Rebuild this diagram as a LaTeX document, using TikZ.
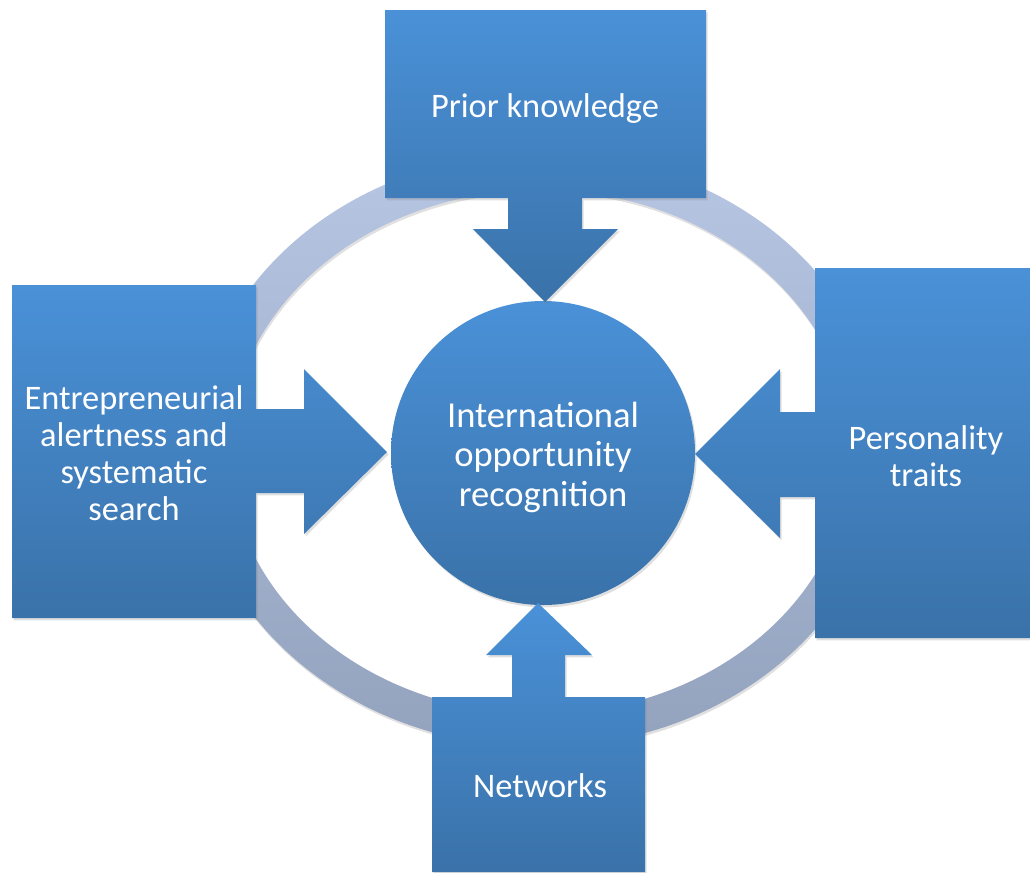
\documentclass[tikz,border=0pt]{standalone}
\usepackage{fontspec}
\setmainfont{Carlito}
\usetikzlibrary{shadows}
\definecolor{boxtop}{HTML}{4A91D8}
\definecolor{boxbot}{HTML}{3A72A9}
\definecolor{ringtop}{HTML}{B6C6E3}
\definecolor{ringbot}{HTML}{93A2BD}
\tikzset{
  callout/.style={top color=boxtop, bottom color=boxbot, draw=none,
    drop shadow={opacity=0.25, shadow xshift=1.2pt, shadow yshift=-1.8pt}},
  lbl/.style={text=white, align=center, font=\fontsize{25.8}{27.75}\selectfont},
}
\begin{document}
\begin{tikzpicture}[x=0.75pt,y=-0.75pt]
\useasboundingbox (0,0) rectangle (1030,872);
% ring shadow
\fill[black, opacity=0.12, even odd rule]
  (541,452.5) ellipse [x radius=258.75pt, y radius=222.75pt]
  (541,454.5) ellipse [x radius=233.25pt, y radius=196.5pt];
% ring
\shade[top color=ringtop, bottom color=ringbot, even odd rule]
  (540,450) ellipse [x radius=258.75pt, y radius=222.75pt]
  (540,452) ellipse [x radius=233.25pt, y radius=196.5pt];
% centre circle
\shade[callout] (543,453) circle [radius=114pt];
% callouts
\shade[callout] (385,10) -- (706,10) -- (706,198) -- (582,198) -- (582,229) -- (618,229)
  -- (545,302) -- (473,229) -- (508,229) -- (508,198) -- (385,198) -- cycle;
\shade[callout] (12,285) -- (256,285) -- (256,409) -- (304,409) -- (304,369) -- (387,452)
  -- (304,534) -- (304,493) -- (256,493) -- (256,618) -- (12,618) -- cycle;
\shade[callout] (815,268) -- (1030,268) -- (1030,638) -- (815,638) -- (815,497) -- (780,497)
  -- (780,538) -- (695,454) -- (780,369) -- (780,412) -- (815,412) -- cycle;
\shade[callout] (432,872) -- (432,697) -- (512,697) -- (512,655) -- (486,655) -- (538,603)
  -- (592,655) -- (565,655) -- (565,697) -- (645,697) -- (645,872) -- cycle;
% labels
\node[lbl] (prior) at (545,109) {Prior knowledge};
\node[lbl] (alert) at (134,453) {Entrepreneurial\\alertness and\\systematic\\search};
\node[lbl, font=\fontsize{27.4}{29.6}\selectfont] (iorec) at (543,457) {International\\opportunity\\recognition};
\node[lbl] (pers) at (926,456) {Personality\\traits};
\node[lbl] (netw) at (540,786) {Networks};
\end{tikzpicture}
\end{document}
